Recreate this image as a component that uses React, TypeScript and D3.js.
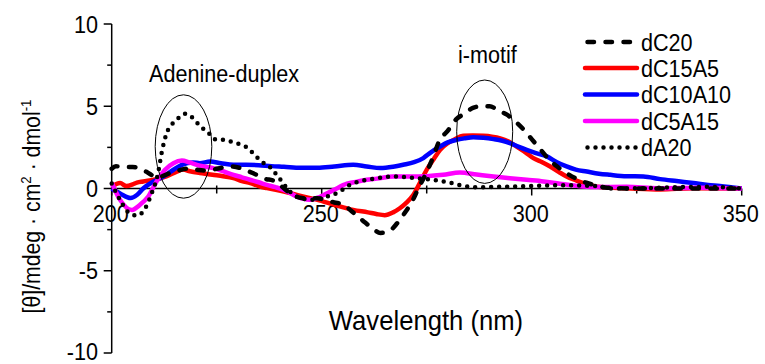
import React from "react";
import * as d3 from "d3";

type Pt = [number, number];

// [wavelength (nm), ellipticity]
const dC20: Pt[] = [[200,1.2],[201,1.35],[203,1.3],[205,1.3],[207,1.2],[209,0.9],[210.5,0.7],[212,0.75],[214,0.95],[216,1.1],[218,1.2],[220,1.15],[222,1.1],[224,1.15],[226,1.25],[228,1.35],[230.5,1.25],[232,1.1],[234.5,0.83],[236,0.63],[239,0.43],[240.5,0.12],[243,-0.38],[246,-0.6],[249,-0.6],[251,-0.7],[253,-0.85],[255,-0.95],[257,-1.35],[260,-2.0],[262,-2.4],[264,-2.7],[266,-2.6],[268,-2.1],[270,-1.4],[271.5,-0.8],[273,0],[275,1.0],[276.5,1.9],[278,2.9],[280,3.5],[282,4.2],[284,4.55],[286,4.9],[288,5.0],[290,5.0],[292,4.75],[294,4.5],[296,4.1],[298,3.6],[300,3.0],[302,2.4],[304,1.8],[306,1.35],[308.5,0.9],[311,0.55],[313,0.35],[315,0.2],[318,0.05],[325,0.0],[335,0.0],[350,0.0]];

const dC15A5: Pt[] = [[200,0.1],[202,0.33],[203.5,0.15],[205,0.25],[206,0.36],[207.5,0.43],[210,0.53],[213,0.73],[215.5,1.03],[217,1.15],[218.6,1.05],[221,0.94],[224,0.83],[226.5,0.75],[229,0.63],[231,0.45],[233,0.33],[235,0.15],[237,0.02],[241,-0.18],[245,-0.45],[249,-0.69],[253,-0.99],[257.5,-1.3],[261,-1.45],[263,-1.55],[265,-1.62],[267,-1.45],[268.6,-1.2],[270,-0.9],[271.8,-0.4],[273.5,0.4],[275,1.14],[276.7,1.8],[278.2,2.35],[280,2.75],[281.5,2.96],[283.7,3.2],[286,3.22],[288.5,3.2],[290.5,3.15],[292.5,3.05],[294.5,2.85],[296.4,2.55],[298.5,2.2],[300.4,1.85],[302.5,1.6],[304.4,1.34],[306.5,1.0],[308.3,0.73],[310.5,0.5],[312.3,0.33],[316.3,0.09],[322.6,0.02],[330.6,-0.06],[338.5,0.02],[350,0.0]];

const dC10A10: Pt[] = [[200,0.0],[202,-0.3],[204.5,-0.58],[206,-0.4],[207.5,0.0],[210,0.43],[212.3,0.73],[214.7,1.14],[216.7,1.44],[219.4,1.58],[221,1.54],[223.4,1.64],[226,1.54],[229,1.45],[232,1.45],[235,1.42],[238,1.36],[241,1.32],[245,1.26],[249,1.26],[253,1.34],[257.5,1.44],[260.7,1.34],[264,1.24],[267,1.32],[269.4,1.44],[272,1.6],[274.2,1.85],[276,2.2],[278.2,2.55],[280,2.8],[282.1,2.96],[284,3.05],[286.1,3.12],[288.5,3.08],[290.9,3.0],[293,2.9],[294.8,2.76],[296.8,2.55],[298.8,2.35],[301,2.15],[303.6,1.95],[306,1.6],[308.3,1.34],[310.5,1.15],[313.1,1.03],[316,0.9],[318.7,0.83],[322.6,0.75],[326.6,0.73],[330.6,0.57],[334.5,0.45],[338.5,0.33],[342,0.22],[344.8,0.16],[350,0.0]];

const dC5A15: Pt[] = [[200,0.35],[202,-0.69],[204.8,-1.3],[206.7,-1.0],[208.7,-0.49],[210.7,0.43],[212.7,1.14],[214.7,1.54],[216.7,1.7],[218.6,1.58],[221,1.38],[224.2,1.24],[226.5,1.05],[229,0.83],[231,0.68],[232.9,0.53],[235,0.38],[236.9,0.22],[239,0.08],[240.9,-0.08],[242.5,-0.28],[244,-0.49],[247.2,-0.69],[249.6,-0.5],[252.8,-0.1],[256,0.29],[258.5,0.42],[260.7,0.53],[263.1,0.6],[267,0.73],[271,0.73],[275,0.75],[278.9,0.83],[282.9,0.97],[286.9,0.85],[290.9,0.73],[294.8,0.63],[298.8,0.53],[302.8,0.43],[306.7,0.29],[310.7,0.16],[314.7,0.09],[322.6,0.1],[330,0.02],[340,0.05],[350,0.0]];

const dA20: Pt[] = [[200,0.3],[202,-0.7],[204,-1.45],[206,-1.65],[208,-1.2],[209.5,-0.3],[211,0.9],[212,2.3],[213,3.3],[214.5,3.95],[216,4.3],[217.5,4.55],[219.5,4.25],[221,3.8],[223,3.4],[224.5,3.0],[227,2.95],[229,2.8],[231,2.65],[232.5,2.45],[234,2.05],[235.7,1.64],[237.7,1.3],[239.3,0.83],[240.5,0.43],[242.5,-0.2],[244.8,-0.58],[248,-0.69],[251,-0.5],[254.4,-0.18],[256,0.12],[259,0.43],[261.5,0.55],[264,0.65],[266.5,0.73],[269.5,0.7],[272.5,0.63],[276.5,0.53],[280.5,0.36],[283.7,0.16],[287,0.08],[292,0.1],[299,0.15],[306.7,0.2],[314.7,0.16],[319.4,0.0],[326.6,0.02],[334.5,0.08],[342.4,0.1],[350,0.0]];

const seriesNames = ["dC20", "dC15A5", "dC10A10", "dC5A15", "dA20"];
const seriesData = [dC20, dC15A5, dC10A10, dC5A15, dA20];
const seriesColors = ["#000000", "#ff0000", "#0000ff", "#ff00ff", "#000000"];
const seriesDash = ["6.5 11.5", "", "", "", "0 8"];
const drawOrder = [1, 2, 3, 0, 4];

const xMajorTicks = [200, 250, 300, 350];
const xMinorTicks = [225, 275, 325];
const yMajorTicks = [-10, -5, 0, 5, 10];
const yMinorTicks = [-7.5, -2.5, 2.5, 7.5];

const FONT = "'Liberation Sans', Arial, sans-serif";

function T({ x, y, size, sx = 0.9, anchor = "start", rotate = 0, children }: any) {
  return (
    <g transform={`translate(${x},${y}) rotate(${rotate}) scale(${sx},1)`}>
      <text x={0} y={0} fontFamily={FONT} fontSize={size} textAnchor={anchor} fill="#000">
        {children}
      </text>
    </g>
  );
}

export default function App() {
  const x = d3.scaleLinear().domain([200, 350]).range([111.7, 741.7]);
  const y = d3.scaleLinear().domain([-10, 10]).range([353, 24]);
  const line = d3
    .line<Pt>()
    .x((d) => x(d[0]))
    .y((d) => y(d[1]))
    .curve(d3.curveMonotoneX);

  const y0 = y(0);
  const legendX0 = 585;
  const legendX1 = 637;
  const legendY = [42, 68, 94.5, 121, 147.5];

  return (
    <svg
      width={765}
      height={364}
      style={{ position: "absolute", left: 0, top: 0, background: "#fff" }}
    >
      <rect x={0} y={0} width={765} height={364} fill="#fff" />
      {/* y axis */}
      <line x1={x(200)} x2={x(200)} y1={y(10)} y2={y(-10)} stroke="#000" strokeWidth={1.5} />
      {yMajorTicks.map((t) => (
        <g key={"ym" + t}>
          <line x1={x(200) - 8} x2={x(200)} y1={y(t)} y2={y(t)} stroke="#000" strokeWidth={1.5} />
          <T x={98} y={Math.min(y(t) + 8.5, 359.5)} size={24} anchor="end">
            {String(t)}
          </T>
        </g>
      ))}
      {yMinorTicks.map((t) => (
        <line key={"yn" + t} x1={x(200) - 4.5} x2={x(200)} y1={y(t)} y2={y(t)} stroke="#000" strokeWidth={1.5} />
      ))}
      {/* x axis at zero */}
      <line x1={x(200)} x2={x(350)} y1={y0} y2={y0} stroke="#000" strokeWidth={1.5} />
      {xMajorTicks.map((t) => (
        <g key={"xm" + t}>
          <line x1={x(t)} x2={x(t)} y1={y0} y2={y0 + 7} stroke="#000" strokeWidth={1.5} />
          <T x={x(t) - 1} y={222} size={24} anchor="middle">
            {String(t)}
          </T>
        </g>
      ))}
      {xMinorTicks.map((t) => (
        <line key={"xn" + t} x1={x(t)} x2={x(t)} y1={y0 - 3} y2={y0 + 5} stroke="#000" strokeWidth={1.5} />
      ))}

      {/* series */}
      {drawOrder.map((i) => (
        <path
          key={seriesNames[i]}
          d={line(seriesData[i]) || ""}
          fill="none"
          stroke={seriesColors[i]}
          strokeWidth={4.5}
          strokeDasharray={seriesDash[i] || undefined}
          strokeLinecap={seriesDash[i] ? "round" : "butt"}
          strokeLinejoin="round"
        />
      ))}

      {/* annotations */}
      <ellipse cx={183.5} cy={146.5} rx={28.3} ry={51.7} fill="none" stroke="#000" strokeWidth={1} />
      <ellipse cx={484.7} cy={131.7} rx={28} ry={51.7} fill="none" stroke="#000" strokeWidth={1} />
      <T x={149} y={82} size={24}>Adenine-duplex</T>
      <T x={458} y={63} size={24}>i-motif</T>

      {/* legend */}
      {seriesNames.map((n, i) => (
        <g key={"lg" + n}>
          <line
            x1={legendX0 + (seriesDash[i] ? 2.5 : 0)}
            x2={legendX1}
            y1={legendY[i]}
            y2={legendY[i]}
            stroke={seriesColors[i]}
            strokeWidth={4.5}
            strokeDasharray={seriesDash[i] || undefined}
            strokeLinecap="round"
          />
          <T x={641} y={legendY[i] + 8.5} size={24}>
            {n}
          </T>
        </g>
      ))}

      {/* axis titles */}
      <T x={426} y={330} size={27} sx={0.95} anchor="middle">
        Wavelength (nm)
      </T>
      <g transform={`translate(40,206.5) rotate(-90) scale(0.885,1)`}>
        <text x={0} y={0} fontFamily={FONT} fontSize={24} textAnchor="middle" fill="#000">
          [θ]/mdeg · cm
          <tspan dy={-9} fontSize={15}>2</tspan>
          <tspan dy={9}> · dmol</tspan>
          <tspan dy={-9} fontSize={15}>-1</tspan>
        </text>
      </g>
    </svg>
  );
}
